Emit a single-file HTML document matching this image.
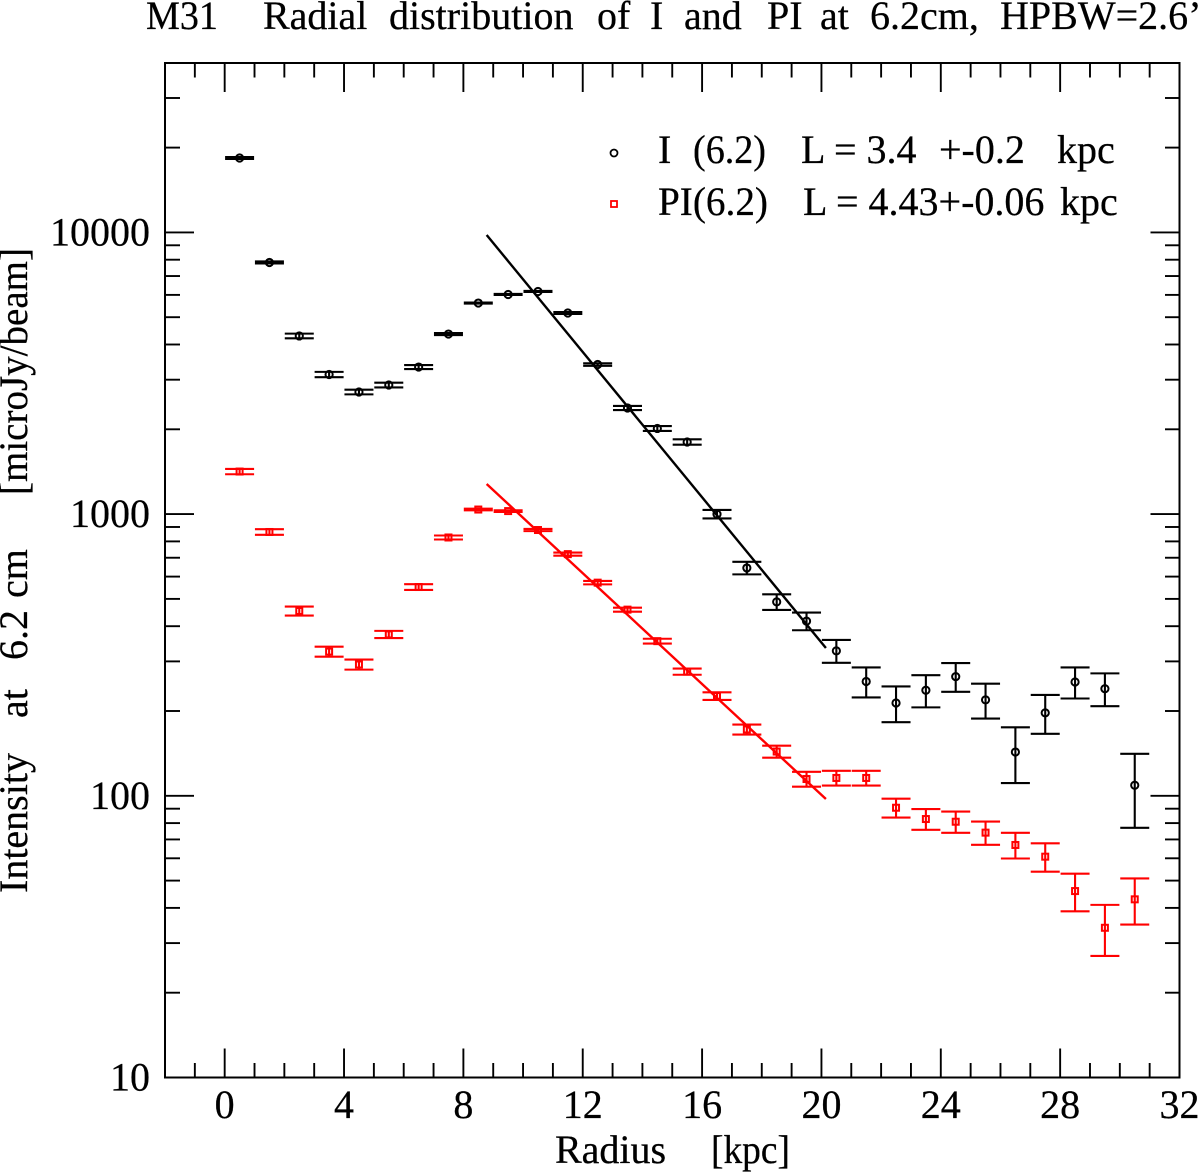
<!DOCTYPE html>
<html>
<head>
<meta charset="utf-8">
<title>M31 radial distribution</title>
<style>
html,body{margin:0;padding:0;background:#fff;width:1200px;height:1172px;overflow:hidden}
svg{display:block}
text{font-family:"Liberation Serif",serif;font-size:40px;fill:#000;stroke:#000;stroke-width:.25}
</style>
</head>
<body>
<svg id="chart" width="1200" height="1172" viewBox="0 0 1200 1172" xmlns="http://www.w3.org/2000/svg">
<rect x="0" y="0" width="1200" height="1172" fill="#fff"/>
<text y="29"><tspan x="146" textLength="72" lengthAdjust="spacingAndGlyphs">M31</tspan><tspan x="263">Radial</tspan><tspan x="389">distribution</tspan><tspan x="597">of</tspan><tspan x="650">I</tspan><tspan x="684">and</tspan><tspan x="767">PI</tspan><tspan x="820">at</tspan><tspan x="870">6.2cm,</tspan><tspan x="1000">HPBW=2.6’</tspan></text>
<text y="1163"><tspan x="555">Radius</tspan><tspan x="711" textLength="79" lengthAdjust="spacingAndGlyphs">[kpc]</tspan></text>
<text transform="translate(27,893) rotate(-90)"><tspan x="0">Intensity</tspan><tspan x="175">at</tspan><tspan x="233">6.2</tspan><tspan x="295">cm</tspan><tspan x="398" textLength="247" lengthAdjust="spacingAndGlyphs">[microJy/beam]</tspan></text>
<g id="ticks"></g>
<g id="series"></g>
<rect x="165" y="63" width="1014.5" height="1014.5" fill="none" stroke="#000" stroke-width="2"/>
<g>
<circle cx="614" cy="153" r="3.5" fill="none" stroke="#000" stroke-width="1.8"/>
<text y="163"><tspan x="658">I</tspan><tspan x="693" textLength="73" lengthAdjust="spacingAndGlyphs">(6.2)</tspan><tspan x="801">L = 3.4</tspan><tspan x="939">+-0.2</tspan><tspan x="1057">kpc</tspan></text>
<rect x="611" y="201" width="6" height="6" fill="none" stroke="#f00" stroke-width="1.8"/>
<text y="215"><tspan x="658" textLength="110" lengthAdjust="spacingAndGlyphs">PI(6.2)</tspan><tspan x="803">L = 4.43+-0.06</tspan><tspan x="1060">kpc</tspan></text>
</g>
</svg>
<script>
var radius = [0.5,1.5,2.5,3.5,4.5,5.5,6.5,7.5,8.5,9.5,10.5,11.5,12.5,13.5,14.5,15.5,16.5,17.5,18.5,19.5,20.5,21.5,22.5,23.5,24.5,25.5,26.5,27.5,28.5,29.5,30.5];
var intensityI = [18370,7820,4290,3130,2713,2872,3327,4357,5613,6020,6170,5175,3396,2380,2014,1803,1000,644,488,417,327,254.5,213.5,237,265,219,143,197,253.5,240,109];
var errorI = [150,64,82,68,52,55,54,35,25,25,25,40,35,40,40,40,35,33,31,30,30.5,31,31,31,31,31,32,31,32,32,32];
var intensityPI = [1416,864,453,325,292.5,374,551,826,1038,1025,878,721,571,458,354,276,226,172,143.6,114.7,115.7,115.7,90.7,82.7,80.9,74,66.9,60.8,45.9,34,42.9];
var errorPI = [31,20,16.7,13.3,12,11,13,13.5,7,7,8,9,8,7.5,7,7,7,7,7,7,7,7,7,7,7,7,7,7,7,7,8];
var fitRadius = [8.78,20.15];
var fitI = [9790,334.7];
var fitPI = [1279,97.4];
var xTickLabels = [0,4,8,12,16,20,24,28,32];
var xMinorTicks = [-1,1,2,3,5,6,7,9,10,11,13,14,15,17,18,19,21,22,23,25,26,27,29,30,31];
var yTickLabels = [10,100,1000,10000];
var yMinorTicks = [20,30,40,50,60,70,80,90,200,300,400,500,600,700,800,900,2000,3000,4000,5000,6000,7000,8000,9000,20000,30000];

var NS = 'http://www.w3.org/2000/svg';
function xScale(v){ return 165 + (v + 2) * 1014.5 / 34; }
function yScale(v){ return 1077.5 - (Math.log(v) / Math.LN10 - 1) * 281.7; }
function make(tag, parent, attrs){
  var el = document.createElementNS(NS, tag);
  for (var k in attrs) el.setAttribute(k, attrs[k]);
  parent.appendChild(el);
  return el;
}
var ticks = document.getElementById('ticks');
var series = document.getElementById('series');
function tickLine(x1,y1,x2,y2){
  var el = make('line', ticks, {x1:x1,y1:y1,x2:x2,y2:y2,stroke:'#000','stroke-width':1.9});
  
  
}
xTickLabels.forEach(function(v){
  var x = xScale(v);
  tickLine(x,1077.5,x,1048.5);
  tickLine(x,63,x,92);
  var t = make('text', ticks, {x:x,y:1118,'text-anchor':'middle'});
  
  
  t.textContent = v;
});
xMinorTicks.forEach(function(v){
  var x = xScale(v);
  tickLine(x,1077.5,x,1063);
  tickLine(x,63,x,77.5);
});
yTickLabels.forEach(function(v){
  var y = yScale(v);
  tickLine(165,y,194,y);
  tickLine(1179.5,y,1150.5,y);
  var t = make('text', ticks, {x:150,y:y+13,'text-anchor':'end'});
  
  
  t.textContent = v;
});
yMinorTicks.forEach(function(v){
  var y = yScale(v);
  tickLine(165,y,180,y);
  tickLine(1179.5,y,1165,y);
});
function drawSeries(values, errors, fit, color, label, square){
  var fitLine = make('line', series, {x1:xScale(fitRadius[0]),y1:yScale(fit[0]),x2:xScale(fitRadius[1]),y2:yScale(fit[1]),stroke:color,'stroke-width':2.4});
  
  
  values.forEach(function(v,i){
    var x = xScale(radius[i]), y = yScale(v), hi = yScale(v + errors[i]), lo = yScale(v - errors[i]);
    var path = make('path', series, {d:'M'+(x-14.5)+' '+hi+'H'+(x+14.5)+'M'+(x-14.5)+' '+lo+'H'+(x+14.5)+'M'+x+' '+hi+'V'+lo,fill:'none',stroke:color,'stroke-width':2.1});
    
    
    var m;
    if (square) {
      m = make('rect', series, {x:x-3,y:y-3,width:6,height:6,fill:'none',stroke:color,'stroke-width':2});
    } else {
      m = make('circle', series, {cx:x,cy:y,r:3.6,fill:'none',stroke:color,'stroke-width':2});
    }
    
    
  });
}
drawSeries(intensityI, errorI, fitI, '#000', 'i', false);
drawSeries(intensityPI, errorPI, fitPI, '#f00', 'pi', true);
</script>
</body>
</html>
